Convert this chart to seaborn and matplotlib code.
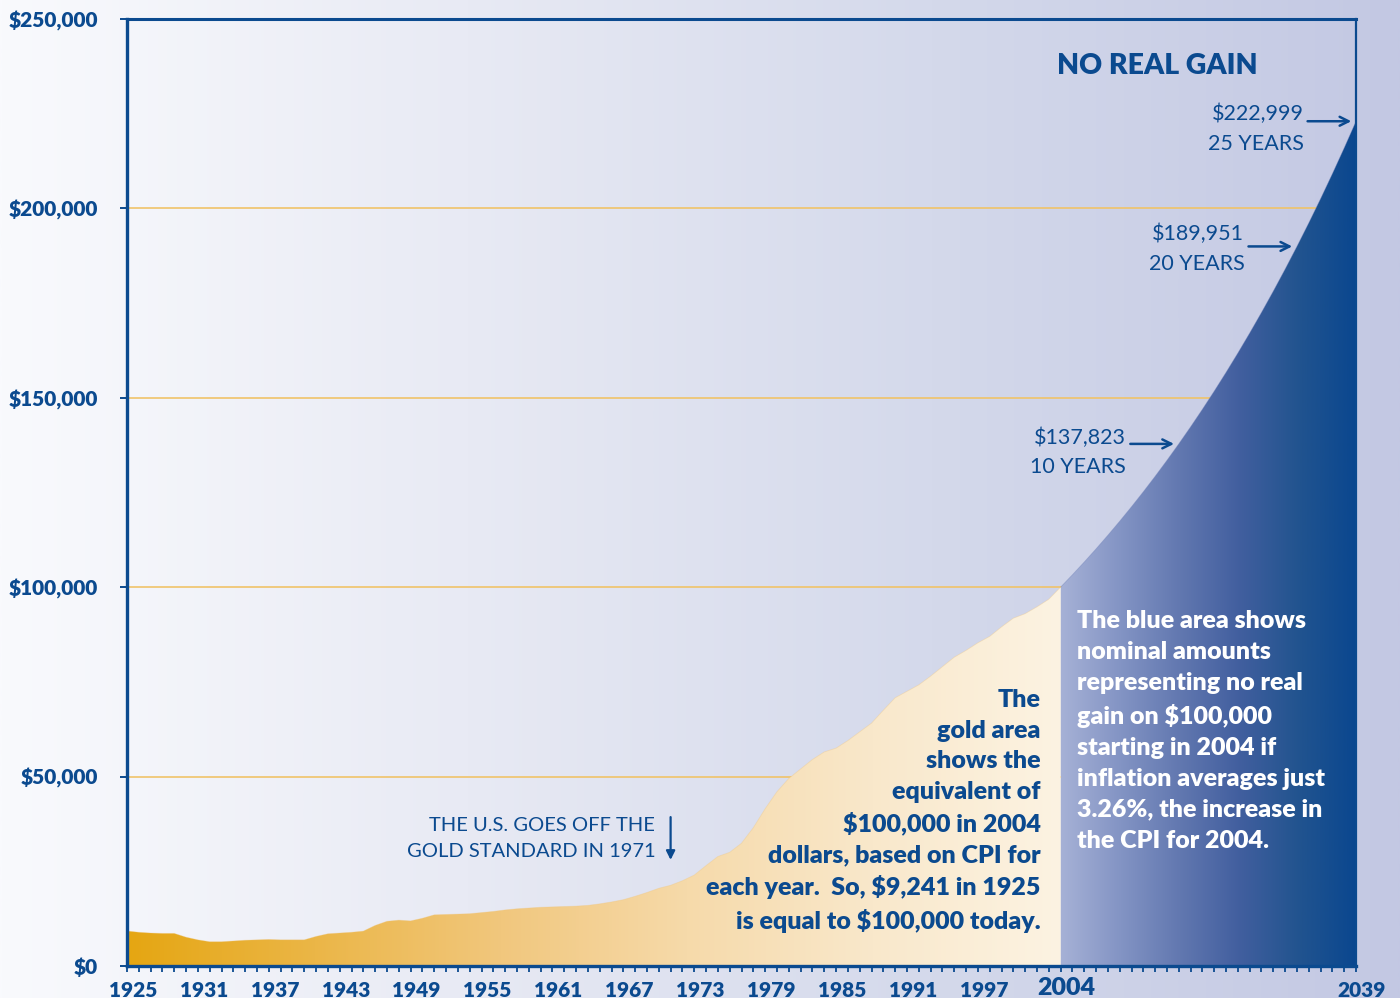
import numpy as np
import pandas as pd
import matplotlib
matplotlib.use("Agg")
import matplotlib.pyplot as plt
import matplotlib.transforms as mtransforms
from matplotlib.colors import LinearSegmentedColormap
from matplotlib.ticker import MultipleLocator
import seaborn as sns

# ---------------- data ----------------
years_real = list(range(1925, 2005))
real_values = [
    9241, 8900, 8700, 8600, 8600,
    7600, 6900, 6400, 6400, 6600,
    6800, 6900, 7000, 6900, 6900,
    6900, 7800, 8500, 8700, 8900,
    9200, 10700, 11800, 12100, 11900,
    12600, 13500, 13600, 13700, 13800,
    14100, 14400, 14800, 15100, 15300,
    15500, 15600, 15700, 15800, 16000,
    16400, 16900, 17500, 18400, 19400,
    20500, 21300, 22500, 24000, 26500,
    28900, 30000, 32400, 36500, 41500,
    46000, 49500, 52000, 54500, 56500,
    57500, 59500, 61800, 64100, 67500,
    70800, 72500, 74200, 76500, 79000,
    81500, 83300, 85300, 87000, 89500,
    91800, 93000, 94800, 96800, 100000,
]
years_nominal = list(range(2004, 2030))
nominal_values = [
    100000, 103260, 106626, 110102, 113691, 117398, 121225, 125177, 129258,
    133472, 137823, 142316, 146955, 151746, 156693, 161801, 167076, 172523,
    178147, 183955, 189951, 196144, 202537, 209140, 215958, 222999,
]
x_tick_positions = [1925, 1931, 1937, 1943, 1949, 1955, 1961, 1967, 1973,
                    1979, 1985, 1991, 1997, 2004, 2029]
x_tick_labels = ["1925", "1931", "1937", "1943", "1949", "1955", "1961", "1967",
                 "1973", "1979", "1985", "1991", "1997", "2004", "2039"]
y_ticks = [0, 50000, 100000, 150000, 200000, 250000]
y_tick_labels = ["$0", "$50,000", "$100,000", "$150,000", "$200,000", "$250,000"]
callout_years = [10, 20, 25]
callout_labels = ["$137,823\n10 YEARS", "$189,951\n20 YEARS", "$222,999\n25 YEARS"]

# ---------------- style ----------------
sns.set_theme(style="white")
plt.rcParams["font.family"] = ["Lato", "DejaVu Sans"]
NAVY = "#0B4A8F"
GRID = "#F0C369"
HEAVY = "heavy"

fig = plt.figure(figsize=(14, 9.98), dpi=100)

# background gradient
bg = fig.add_axes([0, 0, 1, 1], zorder=0)
bg_cmap = LinearSegmentedColormap.from_list("bg", ["#F9FAFD", "#E8EAF4", "#D4D9EB", "#C3C8E3"])
bg.imshow(np.linspace(0, 1, 512).reshape(1, -1), cmap=bg_cmap, aspect="auto",
          extent=[0, 1, 0, 1], interpolation="bicubic")
bg.set_axis_off()

ax = fig.add_axes([0.0907, 0.0321, 0.8779, 0.9489], zorder=1)
ax.patch.set_alpha(0)

df_real = pd.DataFrame({"year": years_real, "value": real_values})
df_nom = pd.DataFrame({"year": years_nominal, "value": nominal_values})

# gridlines
for v in y_ticks[1:-1]:
    ax.axhline(v, color=GRID, lw=1.2, zorder=1)

# gold area
sns.lineplot(data=df_real, x="year", y="value", ax=ax, color="#F0C67E",
             lw=0.6, alpha=0.35, zorder=3, legend=False)
gold_poly = ax.fill_between(df_real["year"], df_real["value"], 0,
                            facecolor="none", lw=0, zorder=2)
gold_cmap = LinearSegmentedColormap.from_list(
    "gold", ["#E5A612", "#EBB647", "#F1C77D", "#F6DAAA", "#F9E8CB", "#FCF3E2"])
gim = ax.imshow(np.linspace(0, 1, 512).reshape(1, -1), cmap=gold_cmap, aspect="auto",
                extent=[min(years_real), max(years_real), 0, max(real_values)],
                zorder=2, interpolation="bicubic")
gim.set_clip_path(gold_poly.get_paths()[0], ax.transData)

# blue area
sns.lineplot(data=df_nom, x="year", y="value", ax=ax, color="#6E80B8",
             lw=0.6, alpha=0.4, zorder=3, legend=False)
blue_poly = ax.fill_between(df_nom["year"], df_nom["value"], 0,
                            facecolor="none", lw=0, zorder=2)
blue_cmap = LinearSegmentedColormap.from_list(
    "blue", ["#A6B1D6", "#8394C4", "#6278B0", "#425F9F", "#22548F", "#0A478F"])
bim = ax.imshow(np.linspace(0, 1, 512).reshape(1, -1), cmap=blue_cmap, aspect="auto",
                extent=[min(years_nominal), max(years_nominal), 0, max(nominal_values)],
                zorder=2, interpolation="bicubic")
bim.set_clip_path(blue_poly.get_paths()[0], ax.transData)

ax.set_xlim(1925, 2029)
ax.set_ylim(0, 250000)
ax.set_xlabel("")
ax.set_ylabel("")

# spines
for side, lw in [("left", 2.4), ("bottom", 2.4), ("top", 2.2), ("right", 1.6)]:
    ax.spines[side].set_visible(True)
    ax.spines[side].set_color(NAVY)
    ax.spines[side].set_linewidth(lw)
    ax.spines[side].set_zorder(4)

# ticks
ax.set_yticks(y_ticks, y_tick_labels)
ax.set_xticks(x_tick_positions, x_tick_labels)
ax.xaxis.set_minor_locator(MultipleLocator(1))
ax.tick_params(axis="y", which="major", direction="out", length=5, width=1.4,
               color=NAVY, pad=16, labelsize=15, labelcolor=NAVY, left=True)
ax.tick_params(axis="x", which="both", direction="out", length=4.5, width=1.3,
               color=NAVY, bottom=True)
ax.tick_params(axis="x", which="major", pad=6, labelsize=15, labelcolor=NAVY)
for lbl in ax.get_yticklabels():
    lbl.set_fontweight(HEAVY)
offset = mtransforms.ScaledTranslation(0.06, 0, fig.dpi_scale_trans)
offset_big = mtransforms.ScaledTranslation(0.06, 0.035, fig.dpi_scale_trans)
for i, tick in enumerate(ax.xaxis.get_major_ticks()):
    tick.label1.set_fontweight(HEAVY)
    if x_tick_labels[i] == "2004":
        tick.label1.set_fontsize(18)
        tick.label1.set_transform(tick.label1.get_transform() + offset_big)
    else:
        tick.label1.set_transform(tick.label1.get_transform() + offset)

# ---------------- annotations ----------------
ax.text(2003.7, 237600, "NO REAL GAIN", fontsize=20.5, fontweight=HEAVY,
        color=NAVY, ha="left", va="center", zorder=6)

text_y = {10: 135600, 20: 189300, 25: 221000}
for n, lab in zip(callout_years, callout_labels):
    yr = years_nominal[n]
    val = nominal_values[n]
    tip_x = yr - 0.4
    tail_x = tip_x - 3.7
    ax.annotate("", xy=(tip_x, val), xytext=(tail_x, val),
                arrowprops=dict(arrowstyle="->", color=NAVY, lw=1.8,
                                mutation_scale=16, shrinkA=0, shrinkB=0), zorder=6)
    ax.text(tail_x - 0.35, text_y[n], lab, fontsize=15.5, color=NAVY,
            ha="right", va="center", linespacing=1.6, zorder=6)

ax.text(1969.7, 33600, "THE U.S. GOES OFF THE\nGOLD STANDARD IN 1971",
        fontsize=14.5, color=NAVY, ha="right", va="center", linespacing=1.6, zorder=6)
ax.annotate("", xy=(1971.0, 28000), xytext=(1971.0, 39300),
            arrowprops=dict(arrowstyle="-|>", color=NAVY, lw=1.6,
                            mutation_scale=13, shrinkA=0, shrinkB=0), zorder=6)

gold_text = ("The\ngold area\nshows the\nequivalent of\n$100,000 in 2004\n"
             "dollars, based on CPI for\neach year.  So, $9,241 in 1925\n"
             "is equal to $100,000 today.")
ax.text(2002.3, 40900, gold_text, fontsize=18, fontweight=HEAVY, color=NAVY,
        ha="right", va="center", linespacing=1.47, zorder=6)

blue_text = ("The blue area shows\nnominal amounts\nrepresenting no real\n"
             "gain on $100,000\nstarting in 2004 if\ninflation averages just\n"
             "3.26%, the increase in\nthe CPI for 2004.")
ax.text(2005.4, 62100, blue_text, fontsize=18, fontweight=HEAVY, color="white",
        ha="left", va="center", linespacing=1.5, zorder=6)

fig.savefig("out.png", dpi=100)
